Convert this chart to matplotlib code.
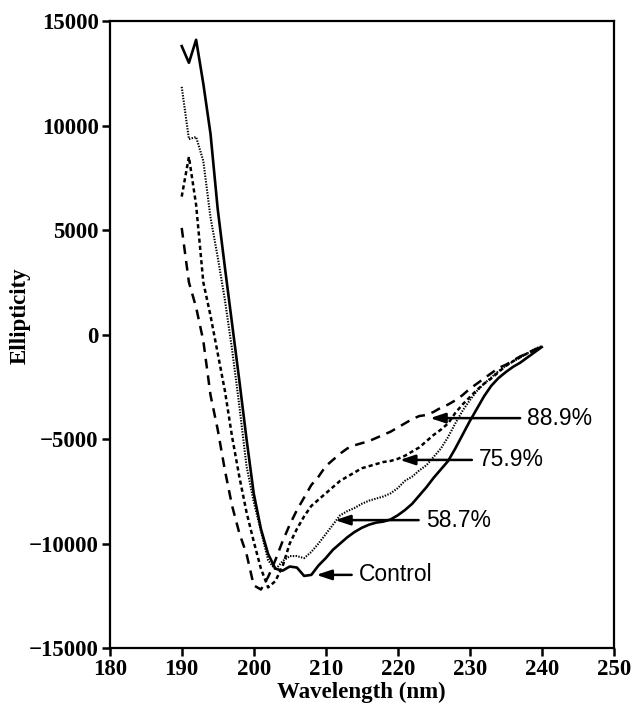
import matplotlib
matplotlib.use('Agg')
import numpy as np
from matplotlib import pyplot as plt

plt.rcParams['lines.scale_dashes'] = False

wavelength = np.arange(190, 241)

control = [13800, 13000, 14100, 12000, 9600, 6000, 3200, 500, -2200, -5000,
           -7600, -9300, -10500, -11200, -11300, -11100, -11150, -11550, -11500, -11050,
           -10700, -10300, -10000, -9700, -9450, -9250, -9100, -9000, -8950, -8850,
           -8650, -8400, -8100, -7700, -7300, -6850, -6450, -6050, -5450, -4800,
           -4150, -3550, -2950, -2450, -2080, -1800, -1550, -1350, -1100, -850,
           -600]

pct_587 = [11850, 9350, 9450, 8300, 5600, 3700, 1650, -730, -3400, -6300,
           -8000, -9400, -10800, -11250, -10850, -10600, -10600, -10700, -10400, -10000,
           -9550, -9100, -8650, -8450, -8300, -8100, -7950, -7850, -7750, -7600,
           -7350, -7000, -6800, -6500, -6250, -5850, -5450, -4900, -4250, -3650,
           -3150, -2700, -2350, -2050, -1750, -1500, -1300, -1100, -900, -700,
           -550]

pct_759 = [6600, 8500, 6200, 2500, 900, -900, -2700, -4900, -6800, -8500,
           -9900, -11200, -12100, -11800, -11100, -10000, -9300, -8700, -8200, -7900,
           -7600, -7300, -7000, -6800, -6600, -6400, -6300, -6200, -6100, -6050,
           -5950, -5800, -5600, -5400, -5100, -4800, -4550, -4250, -3750, -3350,
           -3000, -2650, -2350, -2100, -1800, -1500, -1280, -1080, -900, -750,
           -600]

pct_889 = [5100, 2500, 1300, -300, -2900, -4550, -6500, -8200, -9500, -10500,
           -12000, -12200, -11600, -10800, -9900, -9100, -8400, -7800, -7200, -6800,
           -6300, -6000, -5700, -5450, -5300, -5200, -5100, -4950, -4800, -4650,
           -4450, -4250, -4050, -3900, -3850, -3700, -3500, -3350, -3150, -2900,
           -2600, -2350, -2100, -1850, -1600, -1450, -1250, -1050, -900, -720,
           -580]

# label, arrow tip (nm, value), tail nm
labels = ['88.9%', '75.9%', '58.7%', 'Control']
tips = [(224.5, -4000), (220.3, -6000), (211.3, -8880), (208.7, -11500)]
tails = [237.0, 230.3, 222.9, 213.6]

fig = plt.figure(figsize=(6.36, 7.19), dpi=100)
ax = fig.add_axes([0.1725, 0.0987, 0.7925, 0.8721])

ax.plot(wavelength, control, color='black', lw=1.9, ls='-')
ax.plot(wavelength, pct_587, color='black', lw=1.5, ls=(0, (1.0, 1.0)))
ax.plot(wavelength, pct_759, color='black', lw=1.8, ls=(0, (3.0, 2.2)))
ax.plot(wavelength, pct_889, color='black', lw=1.8, ls=(0, (7.0, 5.0)))

for lab, (tx, ty), tl in zip(labels, tips, tails):
    ax.annotate('', xy=(tx, ty), xytext=(tl, ty),
                arrowprops=dict(arrowstyle='-|>,head_length=0.9,head_width=0.3',
                                color='black', lw=1.8, shrinkA=0, shrinkB=0))
    ax.text(tl + 1.0, ty, lab, ha='left', va='center', fontsize=16.5,
            family='Liberation Sans')

ax.set_xlim(180, 250)
ax.set_ylim(-15000, 15000)
ax.set_xticks(np.arange(180, 251, 10))
ax.set_yticks(np.arange(-15000, 15001, 5000))

tick_font = dict(family='Liberation Serif', weight='bold', size=16.5)
ax.set_xticklabels([str(v) for v in range(180, 251, 10)], fontdict=tick_font)
ax.set_yticklabels(['\u2212' + str(abs(v)) if v < 0 else str(v)
                    for v in range(-15000, 15001, 5000)], fontdict=tick_font)

ax.tick_params(direction='out', length=6, width=1.8, top=False, right=False, pad=2)
for s in ax.spines.values():
    s.set_linewidth(1.6)

ax.set_xlabel('Wavelength (nm)', fontdict=tick_font, labelpad=1)
ax.set_ylabel('Ellipticity', fontdict=tick_font)
ax.yaxis.set_label_coords(-0.156, 0.53)

plt.savefig('out.png', dpi=100)
